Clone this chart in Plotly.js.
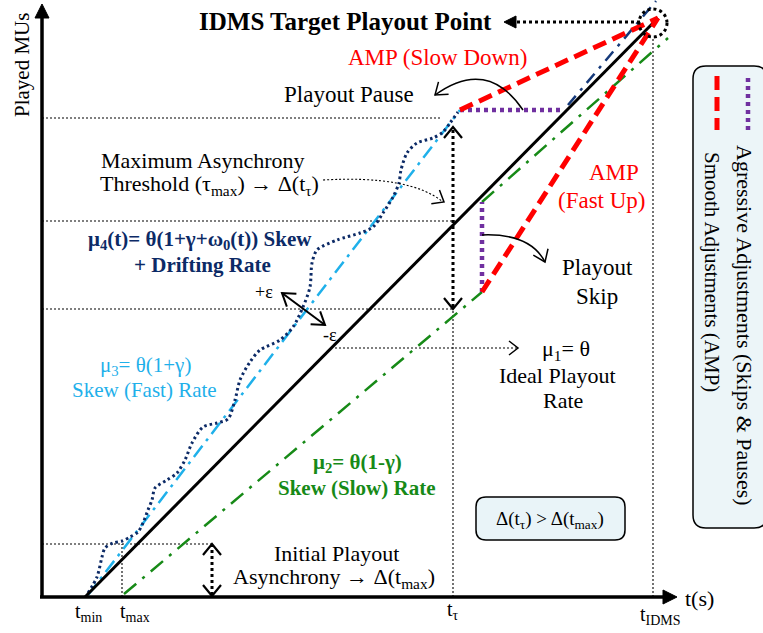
<!DOCTYPE html>
<html><head><meta charset="utf-8">
<script src="https://cdn.plot.ly/plotly-3.0.1.min.js"></script>
<style>html,body{margin:0;padding:0;background:#fff}</style>
</head><body><div id="chart" style="width:763px;height:633px"></div>
<script>
// ---- data (t, played MUs) ----
const idealT = [43, 616], idealMU = [0, 579];
const fastT = [46, 418], fastMU = [2, 487];
const slowT = [82, 440], slowMU = [3, 305];
const slowAfterSkipT = [440, 626], slowAfterSkipMU = [395, 559];
const driftT = [46,55,60,63,71,80,88,96,101,106,110,113,125,135,143,150,161,175,186,193,198,208,218,238,251,261,268,270,275,295,318,331,341,351,357,359,365,375,391,401,408,416];
const driftMU = [4,20,40,49,54,56,60,65,74,87,97,109,117,124,137,154,170,174,178,197,217,235,247,257,270,290,310,334,347,357,364,370,384,400,414,427,444,454,459,465,474,485];
const pauseT = [418, 521], pauseMU = [487, 487];
const skipT = [440, 440], skipMU = [305, 395];
const resumeT = [526, 614], resumeMU = [492, 596];
const slowDownT = [418, 616], slowDownMU = [487, 579];
const fastUpT = [440, 616], fastUpMU = [305, 579];
// reference levels
const refMU = [479, 376, 288, 53];
const refEndT = [398, 413, 411, 170];
const tickT = [46, 93, 411, 618];
const tickMU = [-15, -15, -13, -18];
const tickLabels = ['t<sub>min</sub>', 't<sub>max</sub>', 't<sub>τ</sub>', 't<sub>IDMS</sub>'];
const tMax = 80, tTau = 411, tIDMS = 611;

const FONT = 'Liberation Serif, Times New Roman, serif';
const NAVY = '#0c2a66', LBLUE = '#1fb0ea', GREEN = '#178a17', RED = '#ff0000', PURPLE = '#7030a0';

function line(x, y, color, width, dash, shape) {
  return {x, y, mode: 'lines', type: 'scatter', hoverinfo: 'skip',
    line: {color, width, dash: dash || 'solid', shape: shape || 'linear', smoothing: 0.8}};
}
const traces = [
  line(slowT, slowMU, GREEN, 2.5, '16px,8px,3px,8px'),
  line(slowAfterSkipT, slowAfterSkipMU, GREEN, 2.5, '16px,8px,3px,8px'),
  line(fastT, fastMU, LBLUE, 2.5, '14px,6px,3px,6px'),
  line(driftT, driftMU, NAVY, 3, '2.5px,3px', 'spline'),
  line(idealT, idealMU, '#000', 3),
  line(resumeT, resumeMU, '#15397a', 2.5, '12px,7px,3px,7px'),
  line(pauseT, pauseMU, PURPLE, 4.5, '4px,4px'),
  line(skipT, skipMU, PURPLE, 4.5, '4px,4px'),
  line(slowDownT, slowDownMU, RED, 5, '14px,7px'),
  line(fastUpT, fastUpMU, RED, 5, '14px,7px')
];

// ---- helpers for drawing ----
function head(tip, from, L, W, closed) {
  const dx = tip[0]-from[0], dy = tip[1]-from[1], n = Math.hypot(dx, dy);
  const ux = dx/n, uy = dy/n;
  const a = [tip[0]-L*ux - W*uy, tip[1]-L*uy + W*ux];
  const b = [tip[0]-L*ux + W*uy, tip[1]-L*uy - W*ux];
  return `M${a[0]},${a[1]} L${tip[0]},${tip[1]} L${b[0]},${b[1]}` + (closed ? ' Z' : '');
}
function rrect(x0, y0, x1, y1, r) {
  return `M${x0+r},${y0} L${x1-r},${y0} Q${x1},${y0} ${x1},${y0+r} L${x1},${y1-r} Q${x1},${y1} ${x1-r},${y1} ` +
         `L${x0+r},${y1} Q${x0},${y1} ${x0},${y1-r} L${x0},${y0+r} Q${x0},${y0} ${x0+r},${y0} Z`;
}
const shapes = [];
function seg(x0, y0, x1, y1, color, width, dash, layer) {
  shapes.push({type: 'line', xref: 'x', yref: 'y', x0, y0, x1, y1, layer: layer || 'above',
    line: {color, width, dash: dash || 'solid'}});
}
function path(p, color, width, fill, dash, layer) {
  shapes.push({type: 'path', xref: 'x', yref: 'y', path: p, layer: layer || 'above',
    line: {color, width, dash: dash || 'solid'}, fillcolor: fill || 'rgba(0,0,0,0)'});
}

// thin dotted reference lines
refMU.forEach((m, i) => seg(0, m, refEndT[i], m, '#000', 1.1, '2px,2px', 'below'));
seg(tMax, 0, tMax, refMU[3], '#000', 1.1, '2px,2px', 'below');
seg(tTau, 0, tTau, refMU[2], '#000', 1.1, '2px,2px', 'below');
seg(tIDMS, 0, tIDMS, 560, '#000', 1.1, '2px,2px', 'below');
// ideal rate pointer
seg(293, 249, 475, 249, '#000', 1.1, '2px,2px', 'below');
path(head([476, 249], [293, 249], 9, 7), '#000', 1.5);

// axes
seg(0, -1, 0, 580, '#000', 3.5);
seg(-2, 0, 622, 0, '#000', 3.5);
path(head([0, 593], [0, 0], 14, 7, true), '#000', 1, '#000');
path(head([635, 0], [0, 0], 14, 7, true), '#000', 1, '#000');

// thick dotted double arrows
seg(tTau, 290, tTau, 468, '#000', 3, '3px,3px');
path(head([tTau, 288], [tTau, 470], 11, 9), '#000', 2.2);
path(head([tTau, 470], [tTau, 288], 11, 9), '#000', 2.2);
seg(170, 2, 170, 51, '#000', 3, '3px,3px');
path(head([170, 1], [170, 53], 11, 9), '#000', 2.2);
path(head([170, 53], [170, 1], 11, 9), '#000', 2.2);

// target point pointer
seg(598, 575, 472, 575, '#000', 3, '3px,3px');
path(head([462, 575], [600, 575], 12, 6, true), '#000', 1, '#000');
shapes.push({type: 'circle', xref: 'x', yref: 'y', x0: 597, y0: 560, x1: 625, y1: 588,
  line: {color: '#000', width: 3, dash: '3px,3px'}});

// curved arrows
path('M481,487 Q445,540 393,502', '#000', 1.5);
path(head([393, 502], [425, 528], 11, 8), '#000', 1.5);
path('M440,362 Q488,364 503,335', '#000', 1.5);
path(head([503, 335], [494, 356], 11, 8), '#000', 1.5);
path('M281,417 Q368,422 401,395', '#000', 1.1, null, '2px,2px');
path(head([402, 395], [380, 408], 10, 8), '#000', 1.5);
// +/- epsilon
seg(240, 304, 283, 272, '#000', 2);
path(head([240, 304], [283, 272], 12, 8), '#000', 2);
path(head([283, 272], [240, 304], 12, 8), '#000', 2);

// boxes
path(rrect(434, 57, 583, 100, 10), '#000', 1.5, '#e9f4f8', null, 'below');
path(rrect(651, 69, 725, 531, 13), '#000', 1.5, '#ecf5f8', null, 'below');
seg(675, 521, 675, 467, RED, 5, '14px,7px');
seg(706, 519, 706, 467, PURPLE, 4.5, '4px,4px');

// ---- text ----
const ann = [];
function txt(x, y, text, size, color, bold, angle) {
  ann.push({x, y, xref: 'x', yref: 'y', text: bold ? '<b>' + text + '</b>' : text, showarrow: false,
    xanchor: 'center', yanchor: 'middle', textangle: angle || 0,
    font: {family: FONT, size, color: color || '#000'}});
}
txt(-20, 532, 'Played MUs', 21, '#000', false, -90);
txt(303, 576, 'IDMS Target Playout Point', 25, '#000', true);
txt(395, 540, 'AMP (Slow Down)', 23, RED);
txt(307, 503, 'Playout Pause', 23);
txt(161, 437, 'Maximum Asynchrony', 22);
txt(167, 412, 'Threshold (τ<sub>max</sub>) → Δ(t<sub>τ</sub>)', 22);
txt(158, 357, 'μ<sub>4</sub>(t)= θ(1+γ+ω<sub>0</sub>(t)) Skew', 21, NAVY, true);
txt(160, 332, '+ Drifting Rate', 21, NAVY, true);
txt(222, 305, '+ε', 18);
txt(288, 262, '-ε', 18);
txt(103, 231, 'μ<sub>3</sub>= θ(1+γ)', 21, LBLUE);
txt(102, 207, 'Skew (Fast) Rate', 21, LBLUE);
txt(524, 247, 'μ<sub>1</sub>= θ', 22);
txt(515, 222, 'Ideal Playout', 22);
txt(521, 197, 'Rate', 22);
txt(572, 425, 'AMP', 23, RED);
txt(560, 397, '(Fast Up)', 23, RED);
txt(555, 330, 'Playout', 23);
txt(555, 301, 'Skip', 23);
txt(315, 134, 'μ<sub>2</sub>= θ(1-γ)', 21, GREEN, true);
txt(315, 109, 'Skew (Slow) Rate', 21, GREEN, true);
txt(294, 44, 'Initial Playout', 22);
txt(292, 19, 'Asynchrony → Δ(t<sub>max</sub>)', 22);
txt(508, 77, 'Δ(t<sub>τ</sub>) > Δ(t<sub>max</sub>)', 19);
tickT.forEach((t, i) => txt(t, tickMU[i], tickLabels[i], 20));
txt(657, -1, 't(s)', 22);
txt(703, 272, 'Agressive Adjustments (Skips &amp; Pauses)', 22, '#000', false, 90);
txt(670, 325, 'Smooth Adjustments (AMP)', 21, '#000', false, 90);

const layout = {
  width: 763, height: 633, margin: {l: 0, r: 0, t: 0, b: 0},
  paper_bgcolor: '#fff', plot_bgcolor: '#fff', showlegend: false,
  xaxis: {range: [-42, 721], visible: false, fixedrange: true},
  yaxis: {range: [-36, 597], visible: false, fixedrange: true},
  shapes, annotations: ann
};
Plotly.newPlot('chart', traces, layout, {displayModeBar: false, staticPlot: true});
</script></body></html>
